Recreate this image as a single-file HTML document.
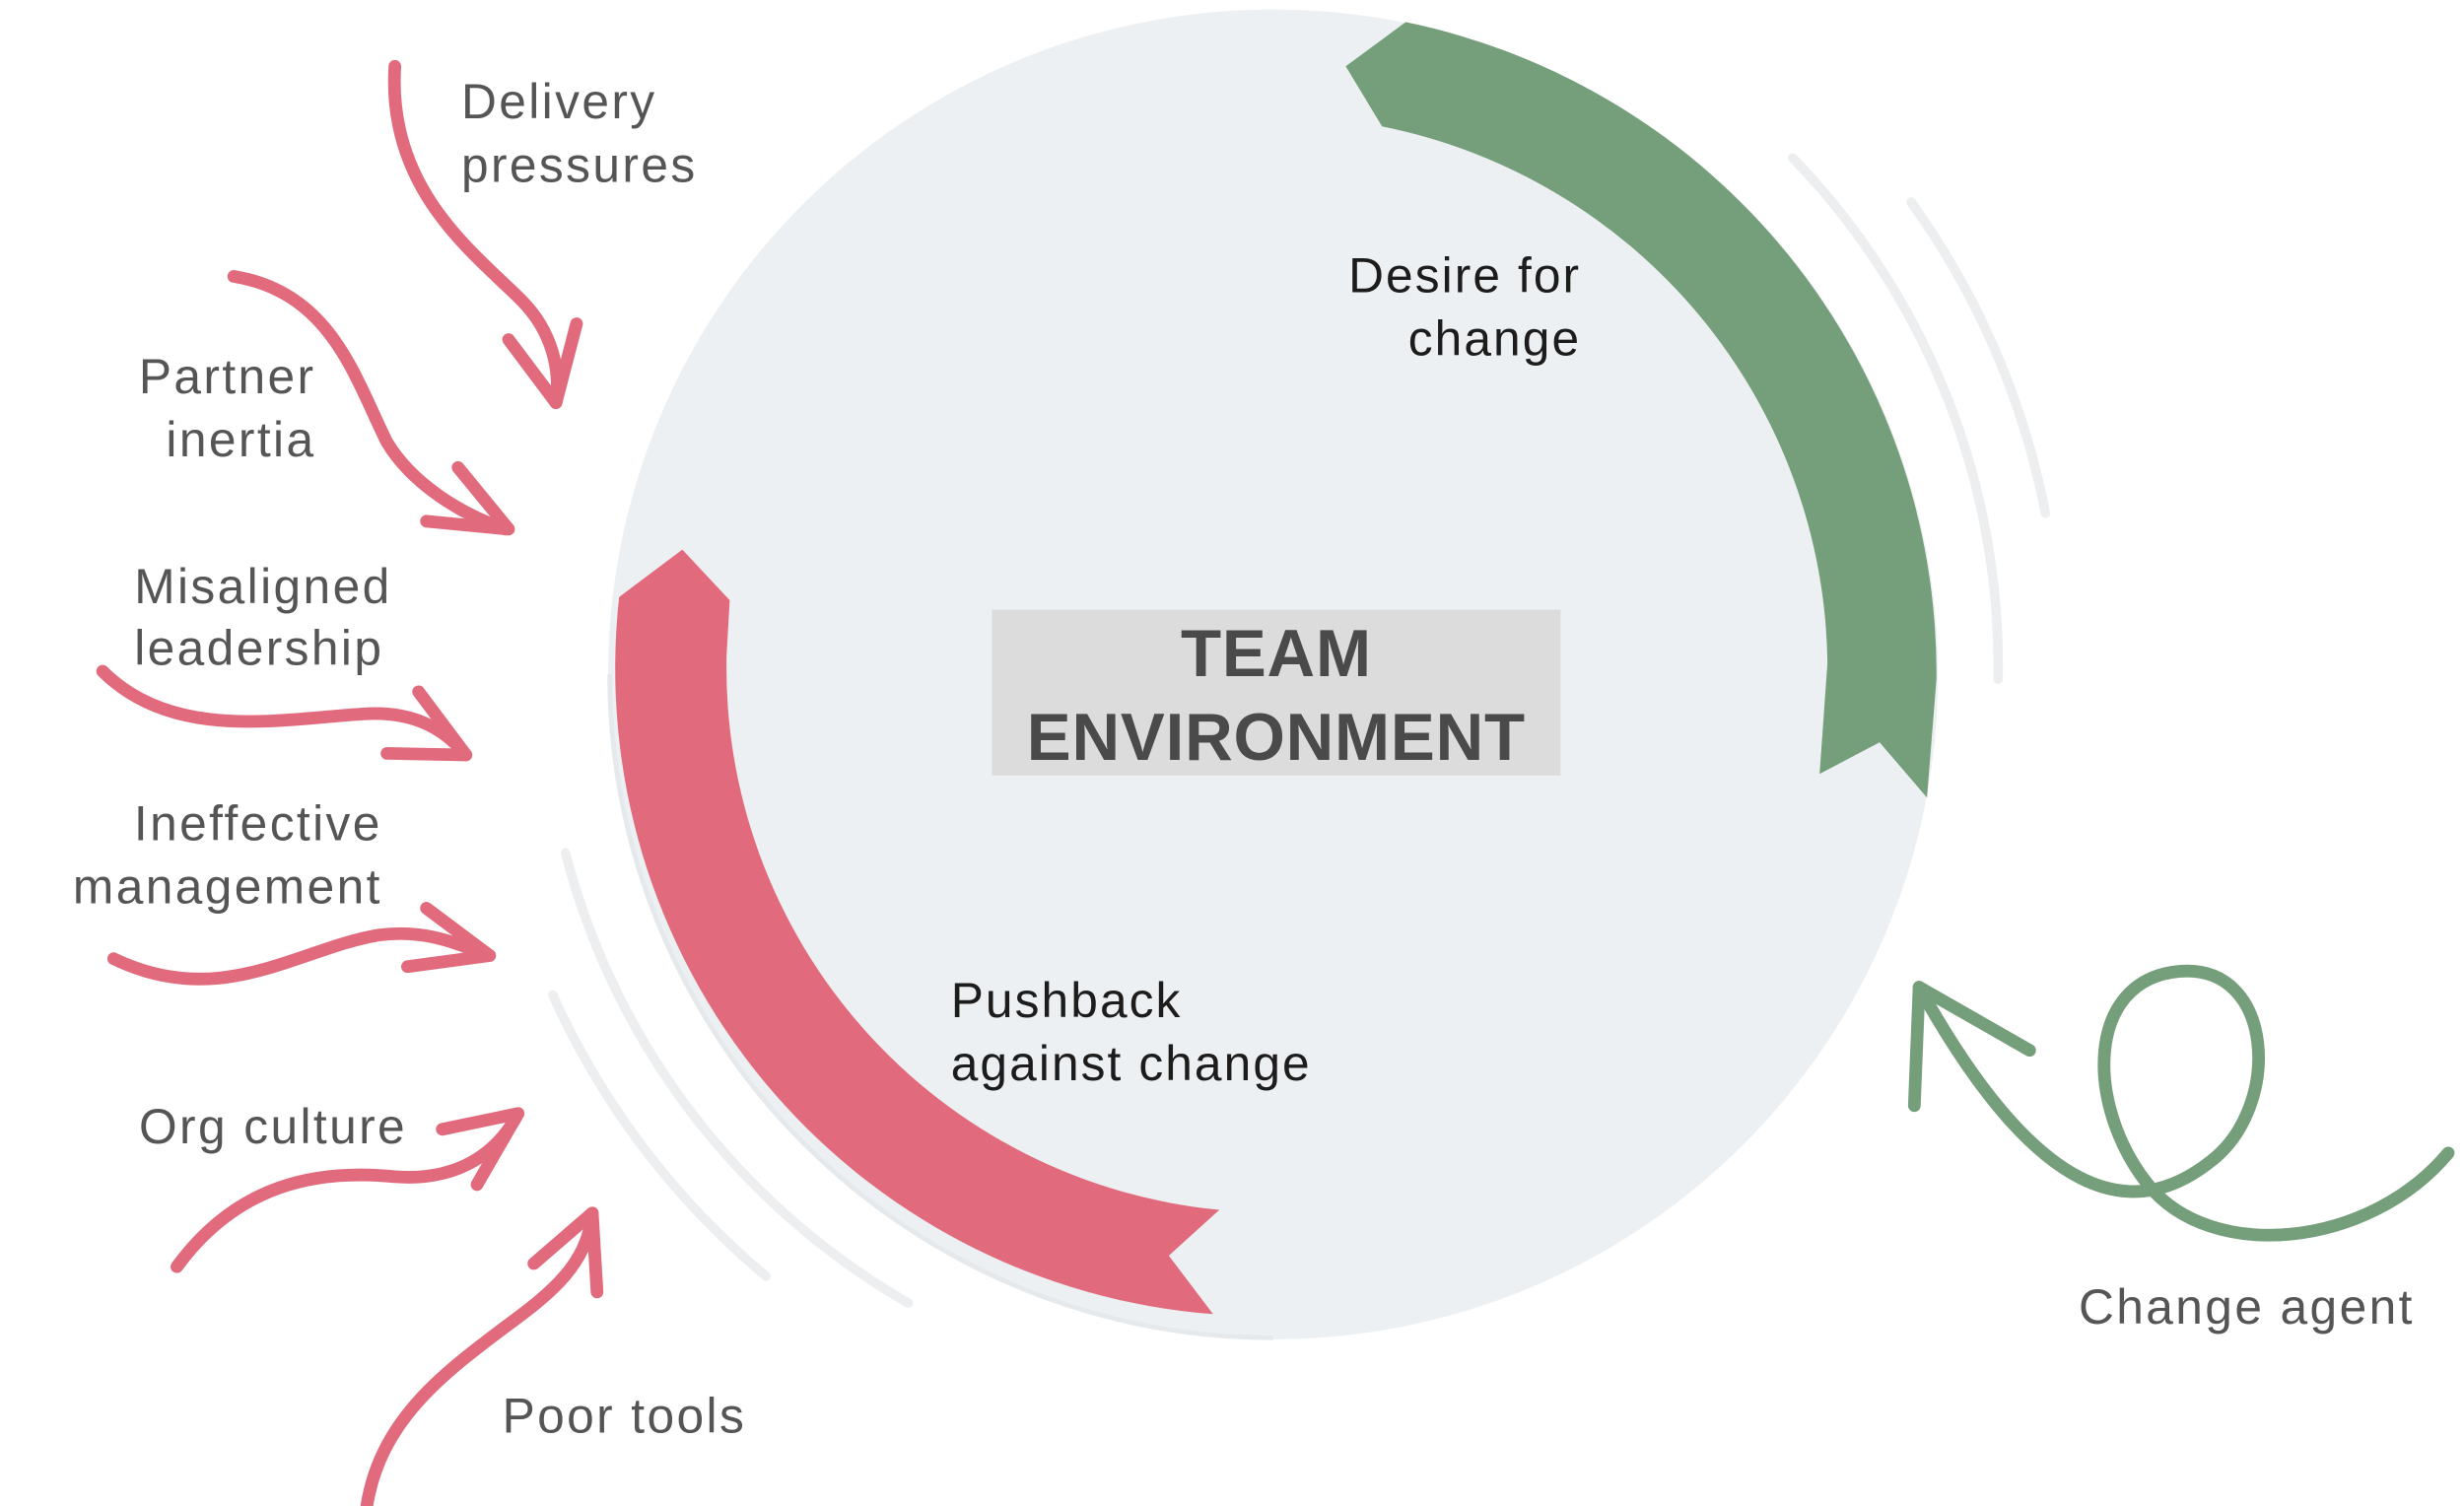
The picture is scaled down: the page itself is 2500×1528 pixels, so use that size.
<!DOCTYPE html>
<html><head><meta charset="utf-8"><style>
html,body{margin:0;padding:0;background:#fff;}
svg{display:block;}
text{font-family:"Liberation Sans",sans-serif;}
</style></head><body>
<svg width="2500" height="1528" viewBox="0 0 1560 953.5" preserveAspectRatio="none" xmlns="http://www.w3.org/2000/svg">
<rect width="1560" height="954" fill="#fff"/>
<!-- faint arcs -->
<g fill="none" stroke="#eceeef" stroke-width="6" stroke-linecap="round">
<path d="M1135,100 A462 462 0 0 1 1265,430"/>
<path d="M1210,128 A500 500 0 0 1 1295,325"/>
<path d="M358,540 A462 462 0 0 0 575,825"/>
<path d="M350,630 A498 498 0 0 0 485,808"/>
</g>
<circle cx="806" cy="427" r="421" fill="#edf0f2"/>
<path d="M386,427 A420 420 0 0 0 806,847" fill="none" stroke="#e6e9eb" stroke-width="3"/>
<!-- green arrow -->
<path d="M852,42 L890,14 A421 421 0 0 1 1226,430 L1220,505 L1190,470 L1152,490 L1157,420 A351 351 0 0 0 875,80 Z" fill="#759e7b"/>
<!-- red arrow -->
<path d="M432,348 L462,380 L460,415 A345 345 0 0 0 772,766 L740,795 L768,832 A410 410 0 0 1 392,378 Z" fill="#e16a7c"/>
<!-- center box -->
<rect x="628" y="386" width="360" height="105" fill="#dcdcdc"/>
<text x="808" y="428" text-anchor="middle" font-size="42" font-weight="bold" fill="#4a4a4a" letter-spacing="0.5">TEAM</text>
<text x="808" y="481" text-anchor="middle" font-size="42" font-weight="bold" fill="#4a4a4a" letter-spacing="0.5">ENVIRONMENT</text>
<g font-size="31" fill="#1c1c1c" letter-spacing="1.3">
<text x="1001" y="185" text-anchor="end">Desire for</text>
<text x="1001" y="225" text-anchor="end">change</text>
<text x="602" y="644">Pushback</text>
<text x="602" y="684">against change</text>
</g>
<g font-size="31" fill="#555" letter-spacing="1.5">
<text x="292" y="75">Delivery</text>
<text x="292" y="115">pressures</text>
<text x="200" y="249" text-anchor="end">Partner</text>
<text x="200" y="289" text-anchor="end">inertia</text>
<text x="85" y="382">Misaligned</text>
<text x="85" y="421">leadership</text>
<text x="242" y="532" text-anchor="end">Ineffective</text>
<text x="242" y="572" text-anchor="end">management</text>
<text x="88" y="724">Org culture</text>
<text x="318" y="907">Poor tools</text>
<text x="1316" y="838">Change agent</text>
</g>
<!-- red squiggles -->
<g fill="none" stroke="#e16a7c" stroke-width="8" stroke-linecap="round" stroke-linejoin="round">
<path d="M250,42 C245,120 300,160 330,190 C350,210 355,235 352,255"/>
<path d="M322,215 L352,255 L365,205"/>
<path d="M148,175 C210,185 225,240 245,280 C260,305 290,325 320,335"/>
<path d="M290,296 L322,335 L270,330"/>
<path d="M65,425 C110,470 180,455 230,452 C260,450 280,460 295,478"/>
<path d="M265,438 L295,478 L245,477"/>
<path d="M72,607 C140,640 190,600 240,592 C270,588 290,598 310,605"/>
<path d="M270,575 L310,605 L258,612"/>
<path d="M112,802 C150,750 200,740 250,745 C290,748 315,730 328,705"/>
<path d="M280,715 L328,705 L302,750"/>
<path d="M232,955 C240,900 280,870 320,840 C350,818 372,800 375,768"/>
<path d="M338,800 L375,768 L378,818"/>
</g>
<!-- green squiggle -->
<g fill="none" stroke="#759e7b" stroke-width="8" stroke-linecap="round" stroke-linejoin="round">
<path d="M1550,730 C1500,790 1400,800 1360,750 C1320,700 1320,620 1380,615 C1440,610 1445,700 1400,735 C1350,775 1290,760 1215,625"/>
<path d="M1212,700 L1215,625 L1285,665"/>
</g>
</svg>
</body></html>
